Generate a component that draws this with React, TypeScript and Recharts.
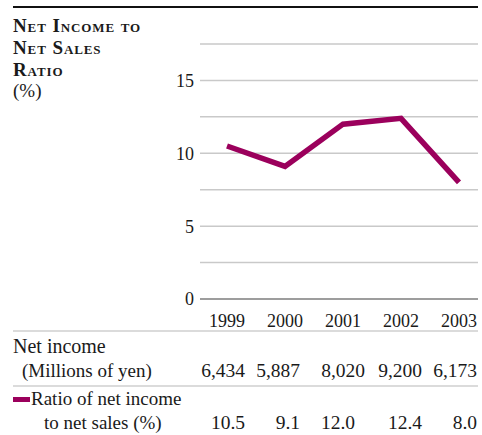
import { LineChart, Line, XAxis, YAxis, CartesianGrid, ReferenceLine } from 'recharts';

const years = ['1999', '2000', '2001', '2002', '2003'];
const netIncome = [6434, 5887, 8020, 9200, 6173];
const ratio = [10.5, 9.1, 12.0, 12.4, 8.0];
const yTicks = [0, 2.5, 5, 7.5, 10, 12.5, 15, 17.5];
const titleLines = ['Net Income to', 'Net Sales', 'Ratio'];

// right edges of the table columns
const incomeCols = [245, 300, 365, 422, 477];
const ratioCols = [245, 300, 355, 422, 477];

const LINE_COLOR = '#9b005c';
const FONT = '"Liberation Serif", "Times New Roman", serif';

const chartData = years.map((year, i) => ({ year, ratio: ratio[i] }));

export default function App() {
  return (
    <div style={{ position: 'absolute', left: 0, top: 0, width: 482, height: 435, background: '#fff' }}>
      <div style={{ position: 'absolute', left: 0, top: 0 }}>
        <LineChart
          width={482}
          height={340}
          data={chartData}
          margin={{ top: 44, right: 4, left: 0, bottom: 0 }}
        >
          <CartesianGrid horizontal vertical={false} stroke="#c9c9c9" strokeWidth={1.5} />
          <XAxis
            dataKey="year"
            scale="point"
            padding={{ left: 27, right: 19 }}
            axisLine={false}
            tickLine={false}
            tickSize={0}
            tickMargin={15}
            height={41}
            tick={{ fill: '#1a1a1a', fontSize: 18, fontFamily: FONT }}
            interval={0}
          />
          <YAxis
            width={200}
            domain={[0, 17.5]}
            ticks={yTicks}
            axisLine={false}
            tickLine={false}
            tickSize={0}
            tickMargin={6}
            tickFormatter={(v: number) => (v % 5 === 0 ? String(v) : '')}
            tick={{ fill: '#1a1a1a', fontSize: 18, fontFamily: FONT }}
          />
          <ReferenceLine y={0} stroke="#8a8a8a" strokeWidth={1.5} />
          <Line
            type="linear"
            dataKey="ratio"
            stroke={LINE_COLOR}
            strokeWidth={5.5}
            strokeLinejoin="miter"
            strokeLinecap="butt"
            dot={false}
            activeDot={false}
            isAnimationActive={false}
          />
        </LineChart>
      </div>
      <svg
        width={482}
        height={435}
        style={{ position: 'absolute', left: 0, top: 0, pointerEvents: 'none', fontFamily: FONT }}
      >
        <line x1={13} x2={478} y1={7} y2={7} stroke="#111" strokeWidth={2} />
        {titleLines.map((t, i) => (
          <text
            key={t}
            x={13}
            y={32 + i * 22}
            fontSize={19}
            fontWeight="bold"
            fill="#1a1a1a"
            letterSpacing={0.9}
            style={{ fontVariant: 'small-caps' }}
          >
            {t}
          </text>
        ))}
        <text x={13} y={97} fontSize={19} fill="#1a1a1a">(%)</text>

        <line x1={13} x2={478} y1={331} y2={331} stroke="#cfcfcf" strokeWidth={1.5} />
        <text x={13} y={353} fontSize={20} fill="#1a1a1a">Net income</text>
        <text x={22} y={377} fontSize={19} fill="#1a1a1a">(Millions of yen)</text>
        {netIncome.map((v, i) => (
          <text key={'ni' + i} x={incomeCols[i]} y={377} fontSize={19.5} fill="#1a1a1a" textAnchor="end">
            {v.toLocaleString('en-US')}
          </text>
        ))}
        <line x1={13} x2={478} y1={386} y2={386} stroke="#cfcfcf" strokeWidth={1.5} />
        <rect x={13} y={397} width={17} height={5} fill={LINE_COLOR} />
        <text x={31} y={405} fontSize={19} fill="#1a1a1a">Ratio of net income</text>
        <text x={44} y={429} fontSize={19} fill="#1a1a1a">to net sales (%)</text>
        {ratio.map((v, i) => (
          <text key={'r' + i} x={ratioCols[i]} y={429} fontSize={19.5} fill="#1a1a1a" textAnchor="end">
            {v.toFixed(1)}
          </text>
        ))}
      </svg>
    </div>
  );
}
